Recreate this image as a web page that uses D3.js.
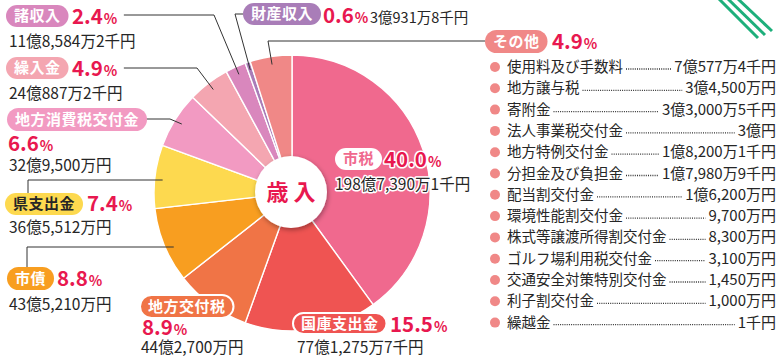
<!DOCTYPE html>
<html><head><meta charset="utf-8">
<script src="https://cdn.jsdelivr.net/npm/d3@7"></script>
<style>
html,body{margin:0;padding:0;background:#fff;}
svg{display:block;font-family:"Noto Sans CJK JP","Noto Sans",sans-serif;}
</style></head>
<body>
<svg id="chart" width="784" height="357"></svg>
<script>
// ---- data ----
const categories = ["市税","国庫支出金","地方交付税","市債","県支出金","地方消費税交付金","繰入金","諸収入","財産収入","その他"];
const percents   = [40.0, 15.5, 8.9, 8.8, 7.4, 6.6, 4.9, 2.4, 0.6, 4.9];
const amounts    = ["198億7,390万1千円","77億1,275万7千円","44億2,700万円","43億5,210万円","36億5,512万円","32億9,500万円","24億887万2千円","11億8,584万2千円","3億931万8千円",""];
const otherItems   = ["使用料及び手数料","地方譲与税","寄附金","法人事業税交付金","地方特例交付金","分担金及び負担金","配当割交付金","環境性能割交付金","株式等譲渡所得割交付金","ゴルフ場利用税交付金","交通安全対策特別交付金","利子割交付金","繰越金"];
const otherAmounts = ["7億577万4千円","3億4,500万円","3億3,000万5千円","3億円","1億8,200万1千円","1億7,980万9千円","1億6,200万円","9,700万円","8,300万円","3,100万円","1,450万円","1,000万円","1千円"];
const centerTitle = "歳 入";

// ---- style ----
const palette = ["#F0698E","#EF5452","#F07446","#F89E20","#FDD94F","#F29AC2","#F4A6B1","#D987BD","#A97DB8","#F08887"];
const color = d3.scaleOrdinal(categories, palette);
const RED = "#E8184F", DARK = "#262626";

const svg = d3.select("#chart");
const cx = 292, cy = 193, R = 138, anchorR = 130;

// decorative stripes
const stripes = svg.append("g").attr("stroke","#1DAF7B").attr("stroke-width",3);
[[719,-1,758,38],[728,-1,765,35],[738,-1,772,31]].forEach(s=>stripes.append("line").attr("x1",s[0]).attr("y1",s[1]).attr("x2",s[2]).attr("y2",s[3]));

// pie
const pie = d3.pie().sort(null).value(d=>d.v).startAngle(0).endAngle(2*Math.PI);
const data = categories.map((c,i)=>({c, v:percents[i], amt:amounts[i], i}));
const arcs = pie(data);
const arc = d3.arc().innerRadius(0).outerRadius(R);
const gPie = svg.append("g").attr("transform",`translate(${cx},${cy})`);
gPie.selectAll("path").data(arcs).join("path")
  .attr("d",arc).attr("fill",d=>color(d.data.c))
  .attr("stroke","#fff").attr("stroke-width",1.4).attr("stroke-linejoin","round");

function anchorOf(a){
  const m=(a.startAngle+a.endAngle)/2;
  return [cx+anchorR*Math.sin(m), cy-anchorR*Math.cos(m)];
}
function hitX(y){ const dy=y-cy; return cx-Math.sqrt(anchorR*anchorR-dy*dy); }

// layout (positions only)
const layout = {
  "市税":        {px:335,py:148,ph:22,pct:[384,167],amt:[335,190],white:true,halo:true},
  "国庫支出金":   {px:293,py:313,ph:21,pct:[390,332],amt:[297,353],border:true},
  "地方交付税":   {px:140,py:295,ph:23,pct:[142,335],amt:[141,353],border:true},
  "市債":        {px:7,py:267,ph:23,pct:[57,286],amt:[9,310],lead:"hv",lx:27,ly:247},
  "県支出金":     {px:5,py:193,ph:22,pct:[87,211],amt:[9,233],dark:true,lead:"hv",lx:28,ly:180},
  "地方消費税交付金":{px:7,py:108,ph:23,pct:[8,151],amt:[9,171],lead:"elbow",ly:119,ex:170},
  "繰入金":       {px:6,py:57,ph:22,pct:[72,76],amt:[9,99],lead:"elbow",ly:68,ex:197},
  "諸収入":       {px:6,py:5,ph:22,pct:[72,24],amt:[9,47],lead:"elbow",ly:15,ex:214},
  "財産収入":     {px:243,py:3,ph:22,pct:[323,23],amt:[370,22.5],amtSize:14.5,lead:"left",ly:14,ex:235},
  "その他":       {px:485,py:30,ph:23,pct:[552,49],lead:"left",ly:41,ex:268}
};

const gLead = svg.append("g").attr("fill","none").attr("stroke","#333").attr("stroke-width",1);
const gLab = svg.append("g");

arcs.forEach(a=>{
  const c=a.data.c, L=layout[c];
  const g=gLab.append("g");
  // pill
  const t=g.append("text").attr("font-size",15).attr("font-weight",700).attr("letter-spacing",0.5)
    .attr("fill", L.white? palette[0] : (L.dark? DARK : "#fff")).text(c);
  const w=t.node().getComputedTextLength()+16;
  g.insert("rect","text").attr("x",L.px).attr("y",L.py).attr("width",w).attr("height",L.ph)
    .attr("rx",L.ph/2).attr("fill",L.white?"#fff":color(c))
    .attr("stroke",L.border?"#fff":"none").attr("stroke-width",L.border?2:0);
  t.attr("x",L.px+8).attr("y",L.py+L.ph/2+5.3);
  // percent
  const p=g.append("text").attr("x",L.pct[0]).attr("y",L.pct[1]).attr("fill",RED).attr("font-weight",700);
  if(L.halo){p.attr("stroke","#fff").attr("stroke-width",3).attr("paint-order","stroke").attr("stroke-linejoin","round");}
  p.append("tspan").attr("font-size",20.5).text(d3.format(".1f")(a.data.v));
  p.append("tspan").attr("font-size",14).attr("dx",1).text("%");
  // amount
  if(L.amt){
    const am=g.append("text").attr("x",L.amt[0]).attr("y",L.amt[1]).attr("font-size",L.amtSize||15.5)
      .attr("fill",DARK).text(a.data.amt);
    if(L.halo) am.attr("stroke","#fff").attr("stroke-width",3).attr("paint-order","stroke").attr("stroke-linejoin","round");
  }
  // leader
  if(L.lead){
    let pts;
    if(L.lead==="hv"){
      pts=[[L.lx,L.py],[L.lx,L.ly],[hitX(L.ly),L.ly]];
    } else if(L.lead==="elbow"){
      const bb=p.node().getBBox();
      pts=[[bb.x+bb.width+6,L.ly],[L.ex,L.ly],anchorOf(a)];
    } else {
      pts=[[L.px,L.ly],[L.ex,L.ly],anchorOf(a)];
    }
    gLead.append("path").attr("d",d3.line()(pts));
  }
});

// center circle
const defs=svg.append("defs");
const f=defs.append("filter").attr("id","sh").attr("x","-50%").attr("y","-50%").attr("width","200%").attr("height","200%");
f.append("feDropShadow").attr("dx",1).attr("dy",2).attr("stdDeviation",2.5).attr("flood-color","#000").attr("flood-opacity",0.35);
svg.append("circle").attr("cx",cx-1).attr("cy",cy-1).attr("r",36).attr("fill","#fff").attr("filter","url(#sh)");
svg.append("text").attr("x",cx-1).attr("y",cy+7).attr("text-anchor","middle").attr("font-size",22)
  .attr("font-weight",700).attr("fill",RED).text(centerTitle);

// other list
const gList=svg.append("g");
const y0=67, step=21.3, xB=495, xT=507, xR=776;
otherItems.forEach((it,i)=>{
  const y=y0+i*step;
  gList.append("circle").attr("cx",xB).attr("cy",y).attr("r",5).attr("fill",palette[9]);
  const lt=gList.append("text").attr("x",xT).attr("y",y+5).attr("font-size",14.5).attr("fill",DARK).text(it);
  const vt=gList.append("text").attr("x",xR).attr("y",y+5).attr("font-size",15).attr("fill",DARK)
    .attr("text-anchor","end").text(otherAmounts[i]);
  const x1=xT+lt.node().getComputedTextLength()+3;
  const x2=xR-vt.node().getComputedTextLength()-3;
  gList.append("line").attr("x1",x1).attr("x2",x2).attr("y1",y+2).attr("y2",y+2)
    .attr("stroke","#333").attr("stroke-width",1.3).attr("stroke-dasharray","1,1.2");
});
</script>
</body></html>
